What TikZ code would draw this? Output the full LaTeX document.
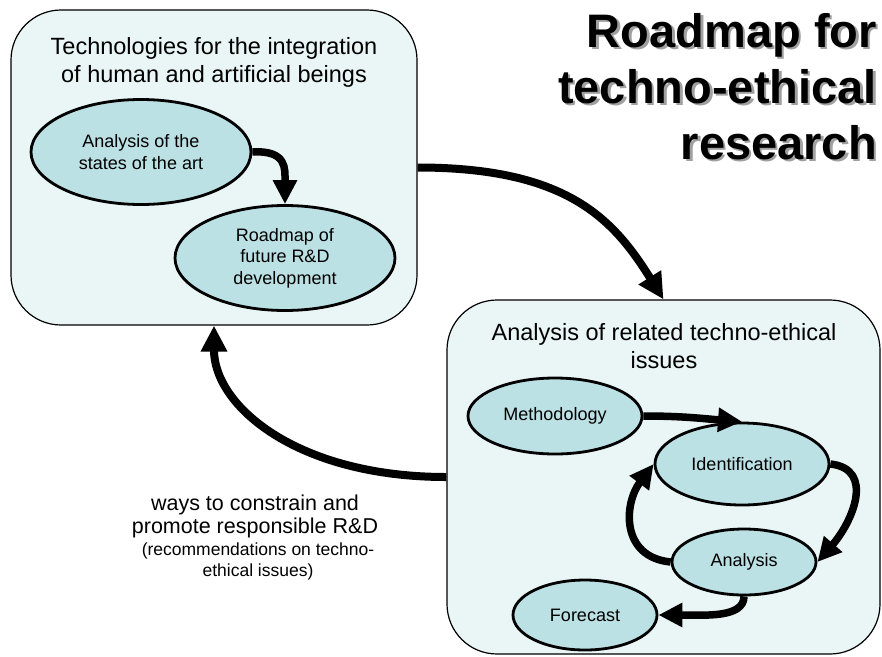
\documentclass[tikz,border=0pt]{standalone}
\usepackage{fontspec}
\setmainfont{Liberation Sans}
\usetikzlibrary{arrows.meta,shapes.geometric}
\definecolor{panelfill}{HTML}{EAF6F6}
\definecolor{stagefill}{HTML}{BCE1E4}
\definecolor{shadowgray}{HTML}{A0A0A0}

\begin{document}
\begin{tikzpicture}[x=1pt,y=-1pt,
  panel/.style={draw=black, line width=1.2pt, fill=panelfill, rounded corners=50pt, inner sep=0pt},
  stage/.style={ellipse, draw=black, line width=2.8pt, fill=stagefill, inner sep=0pt,
                align=center, font=\fontsize{18}{21.5}\selectfont},
  heading/.style={align=center, inner sep=0pt, anchor=north, font=\fontsize{23.5}{28}\selectfont},
  titletext/.style={align=right, anchor=north east, inner sep=0pt,
                    font=\bfseries\fontsize{47}{56}\selectfont},
  flow/.style={line width=7.5pt, -{Triangle[length=24pt,width=23pt]}},
  bigflow/.style={line width=8pt, -{Triangle[length=26pt,width=25pt]}},
]
\useasboundingbox (0,0) rectangle (882,656);

% title with drop shadow
\node[titletext, text=shadowgray] (titleshade) at (879.5,15.5) {Roadmap for\\techno-ethical\\research};
\node[titletext] (title) at (877,13) {Roadmap for\\techno-ethical\\research};

% two panels
\node[panel, minimum width=406pt, minimum height=315pt] (top) at (214,167.5) {};
\node[panel, minimum width=433pt, minimum height=354pt] (bot) at (663.5,477) {};

\node[heading] (tophead) at (214,37) {Technologies for the integration\\of human and artificial beings};
\node[heading] (bothead) at (664,323) {Analysis of related techno-ethical\\issues};

% stages of the first panel
\node[stage, minimum width=220pt, minimum height=105pt] (e1) at (141,152) {Analysis of the\\states of the art};
\node[stage, minimum width=220pt, minimum height=105pt] (e2) at (285,258) {Roadmap of\\future R\&D\\development};

% stages of the second panel
\node[stage, minimum width=174pt, minimum height=76pt] (meth) at (555,416) {Methodology};
\node[stage, minimum width=174pt, minimum height=82pt] (ident) at (742,464) {Identification};
\node[stage, minimum width=144pt, minimum height=66pt] (anal) at (744,562) {Analysis};
\node[stage, minimum width=144pt, minimum height=70pt] (fore) at (585,615) {Forecast};

% flows inside the panels
\draw[flow] (e1.east) .. controls +(35,-2) and +(0,-35) .. (e2.north);
\draw[flow] (meth.east) .. controls +(40,0) and +(-40,-3) .. (ident.north);
\draw[flow] (ident.east) .. controls +(45,5) and +(35,-40) .. (anal.east);
\draw[flow] (anal.west) .. controls +(-50,-5) and +(-30,40) .. (ident.west);
\draw[flow] (anal.south) .. controls +(0,22) and +(45,0) .. (fore.east);

% flows between the panels
\draw[bigflow] (top.east) .. controls +(150,0) and +(-50,-80) .. (bot.north);
\draw[bigflow] (bot.west) .. controls +(-150,0) and +(0,80) .. (top.south);

% feedback caption
\node[align=center, inner sep=0pt, anchor=north, font=\fontsize{21.5}{23}\selectfont] (advice) at (255,494.5)
  {ways to constrain and\\promote responsible R\&D};
\node[align=center, inner sep=0pt, anchor=north, font=\fontsize{17.5}{21}\selectfont] (advicenote) at (258,543)
  {(recommendations on techno-\\ethical issues)};
\end{tikzpicture}
\end{document}
